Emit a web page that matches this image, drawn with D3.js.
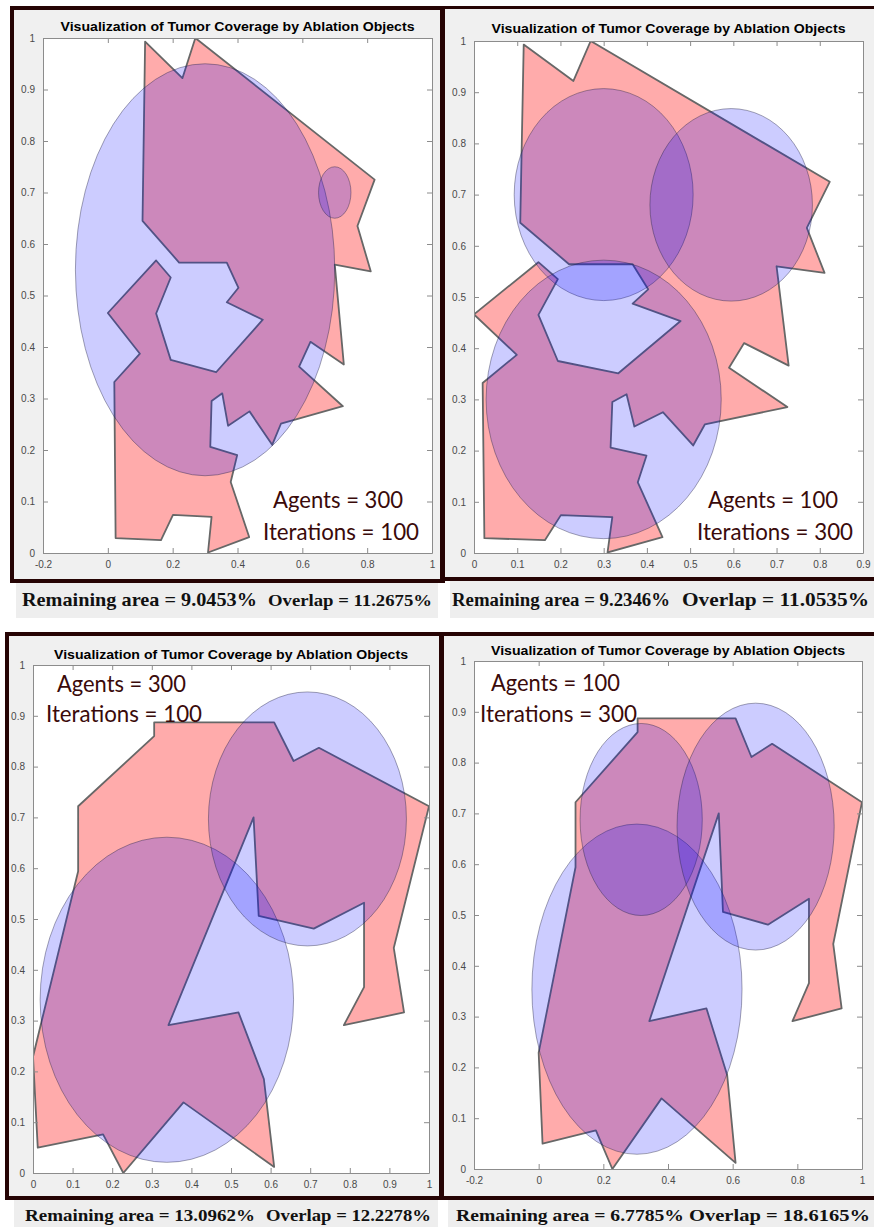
<!DOCTYPE html>
<html>
<head>
<meta charset="utf-8">
<script src="https://d3js.org/d3.v7.min.js"></script>
<style>
  body { margin: 0; background: #fff; }
</style>
</head>
<body>
<div id="chart"></div>
<script>
// tumor outlines, data units [x, y]
var tumorTop = [
    [0.115, 0.993], [0.230, 0.922], [0.270, 1.000], [0.823, 0.725], [0.770, 0.635],
    [0.811, 0.547], [0.700, 0.560], [0.728, 0.366], [0.625, 0.410], [0.590, 0.362],
    [0.725, 0.285], [0.534, 0.251], [0.507, 0.210], [0.437, 0.275], [0.371, 0.247],
    [0.353, 0.310], [0.320, 0.295], [0.316, 0.206], [0.399, 0.190], [0.379, 0.138],
    [0.436, 0.031], [0.309, 0.001], [0.320, 0.070], [0.201, 0.074], [0.164, 0.025],
    [0.024, 0.029], [0.020, 0.332], [0.099, 0.387], [0.000, 0.466], [0.149, 0.568],
    [0.194, 0.535], [0.149, 0.465], [0.194, 0.375], [0.334, 0.351], [0.478, 0.453],
    [0.367, 0.487], [0.403, 0.515], [0.367, 0.564], [0.220, 0.564], [0.107, 0.645]
];

var tumorBottom = [
    [0.000, 0.229], [0.012, 0.050], [0.177, 0.076], [0.228, 0.000], [0.380, 0.139],
    [0.609, 0.012], [0.583, 0.185], [0.519, 0.316], [0.342, 0.291], [0.557, 0.700],
    [0.570, 0.506], [0.709, 0.481], [0.836, 0.532], [0.836, 0.366], [0.785, 0.291],
    [0.937, 0.316], [0.911, 0.443], [1.000, 0.722], [0.722, 0.837], [0.658, 0.811],
    [0.609, 0.887], [0.306, 0.887], [0.306, 0.860], [0.114, 0.722], [0.114, 0.594]
];

// ablation objects [cx, cy, r]
var objects1 = [[0.300, 0.550, 0.400], [0.700, 0.700, 0.050]];
var objects2 = [[0.300, 0.700, 0.207], [0.595, 0.680, 0.188], [0.300, 0.300, 0.272]];
var objects3 = [[0.338, 0.341, 0.320], [0.693, 0.697, 0.250]];
var objects4 = [[0.304, 0.354, 0.325], [0.317, 0.688, 0.189], [0.671, 0.674, 0.243]];

// ticks
var xTicksWide = [-0.2, 0, 0.2, 0.4, 0.6, 0.8, 1];
var xTicksNine = [0, 0.1, 0.2, 0.3, 0.4, 0.5, 0.6, 0.7, 0.8, 0.9];
var xTicksUnit = [0, 0.1, 0.2, 0.3, 0.4, 0.5, 0.6, 0.7, 0.8, 0.9, 1];
var yTicks = [0, 0.1, 0.2, 0.3, 0.4, 0.5, 0.6, 0.7, 0.8, 0.9, 1];

// texts
var titleText = "Visualization of Tumor Coverage by Ablation Objects";
var agentsText = ["Agents = 300", "Agents = 100", "Agents = 300", "Agents = 100"];
var iterText = ["Iterations = 100", "Iterations = 300", "Iterations = 100", "Iterations = 300"];
var remainingText = ["Remaining area = 9.0453%", "Remaining area = 9.2346%",
    "Remaining area = 13.0962%", "Remaining area = 6.7785%"];
var overlapText = ["Overlap = 11.2675%", "Overlap = 11.0535%", "Overlap = 12.2278%", "Overlap = 18.6165%"];

// layout of each panel (pixels)
var panels = [
    { x0: 43, x1: 432, y0: 38, y1: 553, xDomain: [-0.2, 1], xTicks: xTicksWide, tumor: tumorTop, objects: objects1,
      titleY: 31, agents: [273, 508, 130], iter: [263, 540, 156],
      rem: [22, 606, 235, 19], ov: [268, 606, 164, 16] },
    { x0: 474, x1: 863, y0: 41, y1: 553, xDomain: [0, 0.9], xTicks: xTicksNine, tumor: tumorTop, objects: objects2,
      titleY: 33, agents: [708, 508, 130], iter: [697, 540, 156],
      rem: [452, 606, 218, 18], ov: [682, 606, 187, 19] },
    { x0: 33, x1: 429, y0: 665, y1: 1173, xDomain: [0, 1], xTicks: xTicksUnit, tumor: tumorBottom, objects: objects3,
      titleY: 659, agents: [57, 692, 129], iter: [46, 722, 156],
      rem: [25, 1221, 230, 17], ov: [266, 1221, 165, 17] },
    { x0: 474, x1: 862, y0: 661, y1: 1169, xDomain: [-0.2, 1], xTicks: xTicksWide, tumor: tumorBottom, objects: objects4,
      titleY: 655, agents: [491, 691, 129], iter: [480, 722, 157],
      rem: [456, 1221, 228, 17], ov: [689, 1221, 181, 17] }
];

var svgWidth = 874;
var svgHeight = 1227;

var svg = d3.select("#chart")
    .append("svg")
    .attr("width", svgWidth)
    .attr("height", svgHeight);

svg.append("rect")
    .attr("width", svgWidth)
    .attr("height", svgHeight)
    .attr("fill", "#fff");

// figure backgrounds
var grayBoxes = [
    [14, 10, 426, 569], [445, 9, 429, 568], [9, 636, 430, 560], [444, 636, 430, 560],
    [16, 583, 422, 35], [450, 581, 424, 37], [14, 1200, 424, 27], [448, 1200, 426, 27]
];
grayBoxes.forEach(function(b, i) {
    svg.append("rect")
        .attr("x", b[0]).attr("y", b[1])
        .attr("width", b[2]).attr("height", b[3])
        .attr("fill", i < 4 ? "#f0f0f0" : "#eeeeee");
});

// dark frames
var bars = [
    [10, 6, 4, 577], [10, 6, 435, 4], [10, 579, 435, 4], [440, 6, 5, 577],
    [445, 6, 429, 3], [440, 577, 434, 4],
    [5, 632, 869, 4], [5, 632, 4, 568], [439, 632, 5, 568], [5, 1196, 869, 4]
];
bars.forEach(function(b) {
    svg.append("rect")
        .attr("x", b[0]).attr("y", b[1])
        .attr("width", b[2]).attr("height", b[3])
        .attr("fill", "#260404");
});

var fmt = function(d) { return String(+d.toFixed(1)); };

panels.forEach(function(p, i) {
    var xScale = d3.scaleLinear().domain(p.xDomain).range([p.x0, p.x1]);
    var yScale = d3.scaleLinear().domain([0, 1]).range([p.y1, p.y0]);

    var g = svg.append("g");

    g.append("clipPath")
        .attr("id", "clip" + i)
        .append("rect")
        .attr("x", p.x0).attr("y", p.y0)
        .attr("width", p.x1 - p.x0).attr("height", p.y1 - p.y0);

    g.append("rect")
        .attr("x", p.x0).attr("y", p.y0)
        .attr("width", p.x1 - p.x0).attr("height", p.y1 - p.y0)
        .attr("fill", "#fff");

    var plot = g.append("g").attr("clip-path", "url(#clip" + i + ")");

    // tumor
    plot.append("path")
        .datum(p.tumor)
        .attr("d", d3.line()
            .x(d => xScale(d[0]))
            .y(d => yScale(d[1]))
            .curve(d3.curveLinearClosed))
        .attr("fill", "#ff0000")
        .attr("fill-opacity", 0.33)
        .attr("stroke", "#676767")
        .attr("stroke-width", 1.8)
        .attr("stroke-linejoin", "round");

    // ablation objects
    plot.selectAll("ellipse")
        .data(p.objects)
        .enter()
        .append("ellipse")
        .attr("cx", d => xScale(d[0]))
        .attr("cy", d => yScale(d[1]))
        .attr("rx", d => xScale(d[0] + d[2]) - xScale(d[0]))
        .attr("ry", d => yScale(d[1]) - yScale(d[1] + d[2]))
        .attr("fill", "#0000ff")
        .attr("fill-opacity", 0.2)
        .attr("stroke", "#202040")
        .attr("stroke-opacity", 0.5)
        .attr("stroke-width", 0.8);

    // axes
    var axes = [
        g.append("g").attr("transform", `translate(0, ${p.y1})`)
            .call(d3.axisBottom(xScale).tickValues(p.xTicks).tickFormat(fmt)
                .tickSizeInner(-5).tickSizeOuter(0).tickPadding(8)),
        g.append("g").attr("transform", `translate(${p.x0}, 0)`)
            .call(d3.axisLeft(yScale).tickValues(yTicks).tickFormat(fmt)
                .tickSizeInner(-5).tickSizeOuter(0).tickPadding(8)),
        g.append("g").attr("transform", `translate(0, ${p.y0})`)
            .call(d3.axisTop(xScale).tickValues(p.xTicks).tickFormat("")
                .tickSizeInner(-5).tickSizeOuter(0)),
        g.append("g").attr("transform", `translate(${p.x1}, 0)`)
            .call(d3.axisRight(yScale).tickValues(yTicks).tickFormat("")
                .tickSizeInner(-5).tickSizeOuter(0))
    ];
    axes.forEach(function(a) {
        a.attr("font-family", "'Liberation Sans', Arial, sans-serif").attr("font-size", "10px");
        a.selectAll("path.domain").attr("stroke", "#8c8c8c");
        a.selectAll("line").attr("stroke", "#8c8c8c");
        a.selectAll("text").attr("fill", "#4a4a4a");
    });

    // title
    g.append("text")
        .attr("x", (p.x0 + p.x1) / 2)
        .attr("y", p.titleY)
        .attr("text-anchor", "middle")
        .attr("font-family", "'Liberation Sans', Arial, sans-serif")
        .attr("font-weight", "bold")
        .attr("font-size", "12.5px")
        .attr("textLength", 354)
        .attr("lengthAdjust", "spacingAndGlyphs")
        .attr("fill", "#000")
        .text(titleText);

    // run settings
    [[p.agents, agentsText[i]], [p.iter, iterText[i]]].forEach(function(t) {
        g.append("text")
            .attr("x", t[0][0])
            .attr("y", t[0][1])
            .attr("font-family", "Lato, 'Open Sans', sans-serif")
            .attr("font-size", "24px")
            .attr("textLength", t[0][2])
            .attr("lengthAdjust", "spacingAndGlyphs")
            .attr("fill", "#3a0a0a")
            .text(t[1]);
    });

    // captions
    [[p.rem, remainingText[i]], [p.ov, overlapText[i]]].forEach(function(t) {
        g.append("text")
            .attr("x", t[0][0])
            .attr("y", t[0][1])
            .attr("font-family", "'Liberation Serif', 'DejaVu Serif', serif")
            .attr("font-weight", "bold")
            .attr("font-size", t[0][3] + "px")
            .attr("textLength", t[0][2])
            .attr("lengthAdjust", "spacingAndGlyphs")
            .attr("fill", "#111")
            .text(t[1]);
    });
});
</script>
</body>
</html>
